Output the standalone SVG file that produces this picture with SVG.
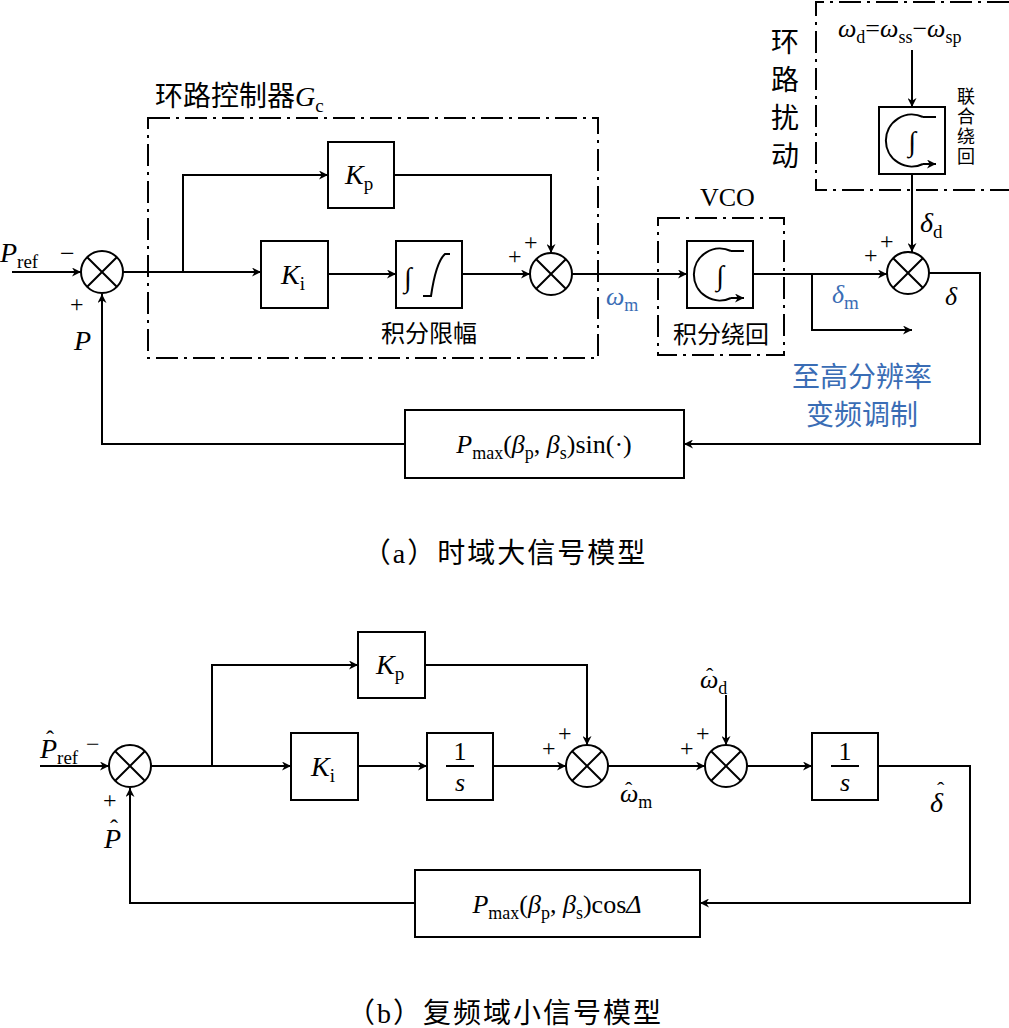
<svg xmlns="http://www.w3.org/2000/svg" width="1009" height="1028" viewBox="0 0 1009 1028">
<defs>
<marker id="ar" viewBox="0 0 10 10" refX="10" refY="5" markerWidth="9" markerHeight="9" markerUnits="userSpaceOnUse" orient="auto"><path d="M0,0 L10,5 L0,10 L3,5 Z" fill="#000"/></marker>
<marker id="as" viewBox="0 0 10 10" refX="10" refY="5" markerWidth="9" markerHeight="9" markerUnits="userSpaceOnUse" orient="auto"><path d="M0,0 L10,5 L0,10 L3,5 Z" fill="#000"/></marker>
<g id="sum"><circle r="21" fill="#fff" stroke="#000" stroke-width="2"/><path d="M-14.8,-14.8 L14.8,14.8 M-14.8,14.8 L14.8,-14.8" stroke="#000" stroke-width="2"/></g>
<g id="wind"><rect x="0" y="0" width="66" height="67" fill="#fff" stroke="#000" stroke-width="2"/><path d="M44,10 A26,26 0 1 0 44,57" fill="none" stroke="#000" stroke-width="2"/><path d="M44,10 H57 M44,57 H57" fill="none" stroke="#000" stroke-width="2" marker-end="url(#as)"/><text x="33" y="44" class="s" font-size="28" text-anchor="middle">∫</text></g>
</defs>
<style>
.l{fill:none;stroke:#000;stroke-width:2}
.b{fill:#fff;stroke:#000;stroke-width:2}
.d{fill:none;stroke:#000;stroke-width:2;stroke-dasharray:22 6 3 6}
.s{font-family:"Liberation Serif","Times New Roman",serif;fill:#000}
.i{font-family:"Liberation Serif","Times New Roman",serif;font-style:italic;fill:#000}
.c{font-family:"Liberation Serif","Noto Sans CJK SC",serif;fill:#000}
.blue{fill:#3a6db5}
</style>
<rect width="1009" height="1028" fill="#fff"/>

<g id="connectors">
<path class="l" d="M12,272 H81" marker-end="url(#ar)"/>
<path class="l" d="M123,272 H261" marker-end="url(#ar)"/>
<path class="l" d="M183,272 V175 H328" marker-end="url(#ar)"/>
<path class="l" d="M394,175 H551 V253" marker-end="url(#ar)"/>
<path class="l" d="M328,274 H396" marker-end="url(#ar)"/>
<path class="l" d="M462,274 H530" marker-end="url(#ar)"/>
<path class="l" d="M572,274 H687" marker-end="url(#ar)"/>
<path class="l" d="M752,274 H887" marker-end="url(#ar)"/>
<path class="l" d="M812,274 V330 H912" marker-end="url(#ar)"/>
<path class="l" d="M912,50 V107" marker-end="url(#ar)"/>
<path class="l" d="M912,174 V252" marker-end="url(#ar)"/>
<path class="l" d="M929,273 H980 V444 H684" marker-end="url(#ar)"/>
<path class="l" d="M405,444 H102 V294" marker-end="url(#ar)"/>

<path class="l" d="M40,766 H109" marker-end="url(#ar)"/>
<path class="l" d="M151,766 H291" marker-end="url(#ar)"/>
<path class="l" d="M212,766 V665 H358" marker-end="url(#ar)"/>
<path class="l" d="M425,665 H587 V745" marker-end="url(#ar)"/>
<path class="l" d="M358,766 H427" marker-end="url(#ar)"/>
<path class="l" d="M493,766 H566" marker-end="url(#ar)"/>
<path class="l" d="M608,766 H705" marker-end="url(#ar)"/>
<path class="l" d="M726,695 V745" marker-end="url(#ar)"/>
<path class="l" d="M747,766 H812" marker-end="url(#ar)"/>
<path class="l" d="M878,766 H970 V903 H700" marker-end="url(#ar)"/>
<path class="l" d="M415,903 H130 V788" marker-end="url(#ar)"/>
</g>

<g id="ctrl-box"><rect class="d" x="148" y="118" width="450" height="240"/>
<text x="155" y="106" class="c" font-size="28">环路控制器<tspan class="i">G</tspan><tspan class="s" font-size="19" dy="6">c</tspan></text></g>
<g id="vco-box"><rect class="d" x="658" y="218" width="126" height="137"/>
<text x="700" y="206" class="s" font-size="26">VCO</text>
<text x="721" y="343" class="c" font-size="24" text-anchor="middle">积分绕回</text></g>
<g id="dist-box"><path class="d" d="M1009,2 H816 V190 H1009"/>
<text x="785" y="52" class="c" font-size="28" text-anchor="middle">环</text>
<text x="785" y="90" class="c" font-size="28" text-anchor="middle">路</text>
<text x="785" y="128" class="c" font-size="28" text-anchor="middle">扰</text>
<text x="785" y="166" class="c" font-size="28" text-anchor="middle">动</text>
<text x="838" y="37" class="i" font-size="26">ω<tspan class="s" font-size="18" font-style="normal" dy="6">d</tspan><tspan class="s" font-style="normal" dy="-6">=</tspan>ω<tspan class="s" font-size="18" font-style="normal" dy="6">ss</tspan><tspan class="s" font-style="normal" dy="-6">−</tspan>ω<tspan class="s" font-size="18" font-style="normal" dy="6">sp</tspan></text>
<text x="966" y="103" class="c" font-size="18" text-anchor="middle">联</text>
<text x="966" y="123" class="c" font-size="18" text-anchor="middle">合</text>
<text x="966" y="143" class="c" font-size="18" text-anchor="middle">绕</text>
<text x="966" y="163" class="c" font-size="18" text-anchor="middle">回</text></g>

<g id="sum1"><use href="#sum" x="102" y="272"/>
<text x="0" y="262" class="i" font-size="28">P<tspan class="s" font-style="normal" font-size="19" dy="6">ref</tspan></text>
<text x="60" y="262" class="s" font-size="26">−</text>
<text x="70" y="312" class="s" font-size="24">+</text>
<text x="74" y="350" class="i" font-size="28">P</text></g>
<g id="kp1"><rect class="b" x="328" y="142" width="66" height="66"/><text x="345" y="184" class="i" font-size="28">K<tspan class="s" font-style="normal" font-size="19" dy="6">p</tspan></text></g>
<g id="ki1"><rect class="b" x="261" y="241" width="67" height="67"/><text x="281" y="284" class="i" font-size="28">K<tspan class="s" font-style="normal" font-size="19" dy="6">i</tspan></text></g>
<g id="lim"><rect class="b" x="396" y="241" width="66" height="67"/><text x="404" y="287" class="s" font-size="28">∫</text><path class="l" d="M423,296 H431 Q436,262 445,254 H450"/>
<text x="429" y="342" class="c" font-size="24" text-anchor="middle">积分限幅</text></g>
<g id="sum2"><use href="#sum" x="551" y="274"/><text x="508" y="264" class="s" font-size="24">+</text><text x="524" y="250" class="s" font-size="24">+</text></g>
<text x="606" y="305" class="i blue" font-size="26">ω<tspan class="s blue" font-style="normal" font-size="18" dy="6">m</tspan></text>
<g id="vco"><use href="#wind" x="687" y="241"/></g>
<g id="wind2"><use href="#wind" x="879" y="107"/></g>
<g id="sum3"><use href="#sum" x="908" y="273"/><text x="864" y="263" class="s" font-size="24">+</text><text x="880" y="249" class="s" font-size="24">+</text>
<text x="920" y="232" class="i" font-size="28">δ<tspan class="s" font-style="normal" font-size="19" dy="6">d</tspan></text>
<text x="945" y="305" class="i" font-size="26">δ</text></g>
<text x="832" y="303" class="i blue" font-size="26">δ<tspan class="s blue" font-style="normal" font-size="19" dy="6">m</tspan></text>
<text x="862" y="387" class="c blue" font-size="28" text-anchor="middle">至高分辨率</text>
<text x="862" y="425" class="c blue" font-size="28" text-anchor="middle">变频调制</text>
<g id="fb1"><rect class="b" x="405" y="410" width="279" height="68"/><text x="544" y="453" class="i" font-size="26" text-anchor="middle">P<tspan class="s" font-style="normal" font-size="18" dy="6">max</tspan><tspan class="s" font-style="normal" dy="-6">(</tspan>β<tspan class="s" font-style="normal" font-size="18" dy="6">p</tspan><tspan class="s" font-style="normal" dy="-6">, </tspan>β<tspan class="s" font-style="normal" font-size="18" dy="6">s</tspan><tspan class="s" font-style="normal" dy="-6">)sin(·)</tspan></text></g>
<text x="505" y="563" class="c" font-size="28" text-anchor="middle" letter-spacing="2">（a）时域大信号模型</text>

<g id="sumA"><use href="#sum" x="130" y="766"/>
<text x="40" y="758" class="i" font-size="28">P<tspan class="s" font-style="normal" font-size="19" dy="6">ref</tspan></text>
<text x="46" y="747" class="s" font-size="24">ˆ</text>
<text x="86" y="752" class="s" font-size="24">−</text>
<text x="103" y="808" class="s" font-size="24">+</text>
<text x="104" y="848" class="i" font-size="28">P</text><text x="110" y="836" class="s" font-size="24">ˆ</text></g>
<g id="kp2"><rect class="b" x="358" y="632" width="67" height="66"/><text x="376" y="674" class="i" font-size="28">K<tspan class="s" font-style="normal" font-size="19" dy="6">p</tspan></text></g>
<g id="ki2"><rect class="b" x="291" y="733" width="67" height="67"/><text x="311" y="776" class="i" font-size="28">K<tspan class="s" font-style="normal" font-size="19" dy="6">i</tspan></text></g>
<g id="int1"><rect class="b" x="427" y="733" width="66" height="67"/><text x="460" y="760" class="s" font-size="26" text-anchor="middle">1</text><path class="l" d="M446,766 H474"/><text x="460" y="791" class="i" font-size="26" text-anchor="middle">s</text></g>
<g id="sumB"><use href="#sum" x="587" y="766"/><text x="542" y="756" class="s" font-size="24">+</text><text x="558" y="741" class="s" font-size="24">+</text></g>
<text x="620" y="802" class="i" font-size="26">ω<tspan class="s" font-style="normal" font-size="18" dy="6">m</tspan></text><text x="625" y="797" class="s" font-size="22">ˆ</text>
<g id="sumC"><use href="#sum" x="726" y="766"/><text x="680" y="756" class="s" font-size="24">+</text><text x="696" y="741" class="s" font-size="24">+</text>
<text x="700" y="688" class="i" font-size="26">ω<tspan class="s" font-style="normal" font-size="18" dy="6">d</tspan></text><text x="706" y="683" class="s" font-size="22">ˆ</text></g>
<g id="int2"><rect class="b" x="812" y="733" width="66" height="67"/><text x="845" y="760" class="s" font-size="26" text-anchor="middle">1</text><path class="l" d="M831,766 H859"/><text x="845" y="791" class="i" font-size="26" text-anchor="middle">s</text></g>
<text x="930" y="812" class="i" font-size="28">δ</text><text x="937" y="797" class="s" font-size="22">ˆ</text>
<g id="fb2"><rect class="b" x="415" y="870" width="285" height="67"/><text x="557" y="913" class="i" font-size="26" text-anchor="middle">P<tspan class="s" font-style="normal" font-size="18" dy="6">max</tspan><tspan class="s" font-style="normal" dy="-6">(</tspan>β<tspan class="s" font-style="normal" font-size="18" dy="6">p</tspan><tspan class="s" font-style="normal" dy="-6">, </tspan>β<tspan class="s" font-style="normal" font-size="18" dy="6">s</tspan><tspan class="s" font-style="normal" dy="-6">)cos</tspan>Δ</text></g>
<text x="505" y="1023" class="c" font-size="28" text-anchor="middle" letter-spacing="2">（b）复频域小信号模型</text>
</svg>
